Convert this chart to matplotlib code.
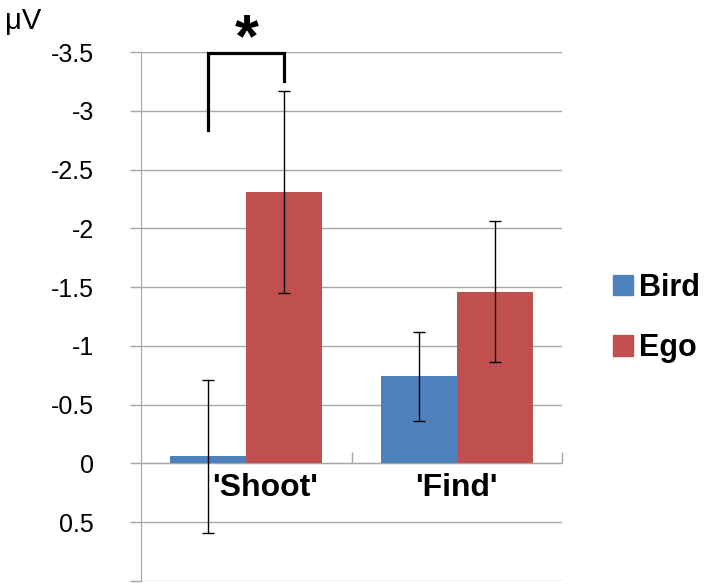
import numpy as np
import matplotlib
matplotlib.use("Agg")
import matplotlib.pyplot as plt
from matplotlib.patches import Patch

plt.rcParams['font.family'] = ['Liberation Sans', 'DejaVu Sans']

categories = ["'Shoot'", "'Find'"]
bird_vals = [-0.06, -0.74]
bird_err = [0.65, 0.38]
ego_vals = [-2.31, -1.46]
ego_err = [0.86, 0.60]
yticks = [-3.5, -3, -2.5, -2, -1.5, -1, -0.5, 0, 0.5, 1.0]
ytick_labels = ["-3.5", "-3", "-2.5", "-2", "-1.5", "-1", "-0.5", "0", "0.5", ""]

blue = "#4F81BD"
red = "#C0504D"
grid_c = "#A6A6A6"

fig = plt.figure(figsize=(7.08, 5.88), dpi=100)
ax = fig.add_axes([141 / 708, 1 - 581 / 588, (562 - 141) / 708, (581 - 52) / 588])

x = np.arange(len(categories))
w = 0.361
off = w / 2

ax.bar(x - off, bird_vals, w, color=blue, zorder=3)
ax.bar(x + off, ego_vals, w, color=red, zorder=3)
ax.errorbar(x - off, bird_vals, yerr=bird_err, fmt='none', ecolor='black',
            elinewidth=1, capsize=4.3, capthick=1, zorder=4)
ax.errorbar(x + off, ego_vals, yerr=ego_err, fmt='none', ecolor='black',
            elinewidth=1, capsize=4.3, capthick=1, zorder=4)

ax.set_xlim(-0.5, 1.5)
ax.set_ylim(1.0, -3.5)

ax.set_yticks(yticks)
ax.set_yticklabels(ytick_labels, fontsize=18)
ax.tick_params(axis='y', length=8, width=1, color=grid_c, pad=26)
ax.yaxis.grid(True, color=grid_c, linewidth=1)
ax.set_axisbelow(True)

for s in ['top', 'right']:
    ax.spines[s].set_visible(False)
ax.spines['left'].set_color(grid_c)
ax.spines['bottom'].set_position(('data', 0))
ax.spines['bottom'].set_color(grid_c)

ax.set_xticks([])
ax.set_xticks([0.5, 1.5], minor=True)
ax.tick_params(axis='x', which='minor', direction='in', length=8, color=grid_c, width=1)

label_x = [0.09, 1.0]
for lx, lab in zip(label_x, categories):
    ax.text(lx, 0.21, lab, ha='center', va='center', fontsize=23, fontweight='bold')

# significance bracket
bx0, bx1 = x[0] - off, x[0] + off
ax.plot([bx0, bx0, bx1, bx1], [-2.84, -3.49, -3.49, -3.25], color='black',
        linewidth=2.3, solid_joinstyle='miter', clip_on=False, zorder=5)
ax.text(0.0, -3.6, '*', ha='center', va='center', fontsize=44, fontweight='bold')

fig.text(5 / 708, 1 - 21 / 588, 'μV', ha='left', va='center', fontsize=21)

handles = [Patch(color=blue), Patch(color=red)]
fig.legend(handles, ['Bird', 'Ego'], loc='center left', bbox_to_anchor=(613 / 708, 1 - 318 / 588),
           frameon=False, prop={'size': 22, 'weight': 'bold'}, handlelength=0.65,
           handleheight=0.65, handletextpad=0.2, labelspacing=1.0, borderpad=0,
           borderaxespad=0)

fig.savefig("out.png", dpi=100)
